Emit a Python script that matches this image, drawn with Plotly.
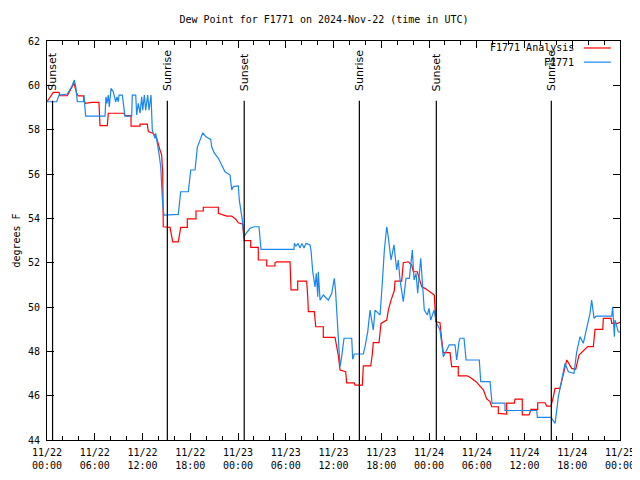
import pandas as pd
import plotly.graph_objects as go

# ---------------- data (hours since 2024-11-22 00:00 UTC, degrees F) ----------------
analysis_hours = [0, 0.79, 1.51, 1.63, 2.55, 3.39, 3.73, 3.93, 4.56, 4.78, 5.62, 6.53, 6.66, 7.58, 7.70,
                  9.68, 9.80, 10.56, 10.56, 11.69, 11.69, 12.60, 12.73, 13.36, 13.78, 13.99, 14.20, 14.41,
                  14.54, 14.61, 15.46, 15.80, 16.50, 16.80, 17.63, 17.63, 18.72, 18.72, 19.64, 19.64, 21.53,
                  21.53, 22.58, 23.21, 23.75, 24.04, 24.59, 24.67, 24.79, 25.60, 25.60, 26.55, 26.55, 27.61,
                  27.61, 28.65, 28.65, 28.86, 30.54, 30.66, 31.50, 31.50, 32.63, 32.76, 32.84, 33.59, 33.77,
                  34.72, 34.72, 36.19, 36.40, 36.60, 36.82, 37.53, 37.66, 38.61, 38.70, 39.62, 39.75, 40.68,
                  40.88, 41.00, 41.72, 41.97, 42.69, 42.89, 43.23, 43.64, 43.73, 44.57, 44.77, 45.40, 45.83,
                  46.03, 46.53, 46.87, 47.09, 47.50, 48.13, 48.67, 48.84, 49.38, 49.60, 49.80, 50.64, 50.85,
                  51.68, 51.68, 52.81, 53.15, 53.91, 54.20, 54.83, 55.25, 55.67, 55.88, 56.71, 56.71, 57.76,
                  57.76, 58.72, 58.81, 59.72, 59.72, 60.57, 60.82, 61.66, 61.66, 62.58, 62.79, 63.33, 63.62,
                  63.84, 64.46, 64.88, 65.31, 65.93, 66.44, 66.85, 67.94, 68.65, 68.86, 69.83, 69.91, 70.87,
                  70.96, 71.71, 72.0]
analysis_vals = [59.26, 59.68, 59.68, 59.53, 59.53, 60.09, 59.64, 59.52, 59.52, 59.19, 59.23, 59.23, 58.18,
                 58.18, 58.74, 58.74, 58.63, 58.63, 58.16, 58.16, 58.25, 58.25, 57.91, 57.83, 57.61, 57.31,
                 57.08, 56.86, 56.03, 53.62, 53.59, 52.94, 52.94, 53.59, 53.59, 53.98, 53.98, 54.33, 54.33,
                 54.50, 54.50, 54.23, 54.10, 54.10, 53.95, 53.80, 53.74, 53.40, 52.99, 52.99, 52.69, 52.69,
                 52.12, 52.12, 51.85, 51.85, 52.00, 52.04, 52.04, 50.77, 50.77, 51.17, 51.17, 50.46, 49.79,
                 49.79, 49.11, 49.11, 48.63, 48.63, 48.21, 47.83, 47.16, 47.08, 46.58, 46.58, 46.48, 46.48,
                 47.34, 47.34, 47.88, 48.39, 48.39, 49.26, 49.41, 49.86, 50.31, 50.73, 51.17, 51.17, 52.00,
                 52.04, 51.89, 51.59, 51.59, 51.22, 50.91, 50.84, 50.69, 50.54, 49.34, 49.29, 48.51, 47.94,
                 47.94, 47.31, 47.31, 46.89, 46.89, 46.83, 46.63, 46.51, 46.26, 45.85, 45.73, 45.50, 45.50,
                 45.20, 45.17, 45.66, 45.66, 45.84, 45.84, 45.13, 45.13, 45.38, 45.38, 45.68, 45.68, 45.53,
                 45.53, 45.95, 46.33, 46.33, 46.93, 47.61, 47.23, 47.19, 47.83, 48.21, 48.21, 48.99, 48.99,
                 49.49, 49.49, 49.26, 49.26, 49.32]

station_hours = [0, 1.22, 1.51, 2.55, 3.10, 3.43, 3.61, 3.81, 4.56, 4.65, 4.71, 4.86, 7.29, 7.41, 7.54,
                 7.70, 7.83, 8.04, 8.33, 8.63, 8.80, 8.96, 9.05, 9.46, 9.80, 10.64, 10.72, 11.15, 11.27,
                 11.47, 11.69, 11.90, 12.03, 12.23, 12.40, 12.65, 12.82, 13.07, 13.23, 13.36, 13.57, 13.66,
                 13.91, 14.07, 14.29, 14.41, 14.49, 14.61, 14.70, 16.50, 16.62, 16.80, 17.76, 17.88, 18.06,
                 18.60, 18.72, 18.89, 19.23, 19.57, 19.98, 20.57, 20.70, 20.99, 21.53, 21.83, 22.37, 23.00,
                 23.21, 23.41, 24.04, 24.16, 24.38, 24.54, 24.76, 25.01, 25.51, 26.05, 26.64, 26.89, 31.04,
                 31.08, 31.29, 31.54, 31.79, 32.04, 32.29, 32.55, 33.05, 33.17, 33.39, 33.68, 33.84, 34.02,
                 34.09, 34.31, 34.72, 35.35, 35.78, 36.10, 36.25, 36.40, 36.60, 36.82, 37.03, 37.32, 38.29,
                 38.41, 38.61, 39.75, 39.96, 40.30, 40.59, 40.80, 41.00, 41.22, 41.85, 42.13, 42.39, 42.69,
                 42.85, 43.23, 43.60, 43.94, 44.14, 44.36, 44.77, 45.11, 45.53, 45.91, 46.12, 46.37, 46.58,
                 46.96, 47.21, 47.41, 47.79, 48.00, 48.22, 48.63, 48.97, 49.38, 49.60, 49.80, 50.23, 50.55,
                 51.27, 51.48, 51.77, 51.90, 52.40, 52.66, 54.32, 54.50, 55.67, 55.92, 57.55, 57.55, 61.54,
                 61.62, 63.33, 63.58, 63.84, 64.05, 64.25, 64.68, 65.09, 65.51, 66.22, 66.56, 66.98, 67.39,
                 67.82, 68.23, 68.44, 68.54, 68.74, 68.99, 70.96, 71.08, 71.29, 71.37, 71.79, 72.0]
station_vals = [59.26, 59.26, 59.56, 59.61, 59.94, 60.24, 59.94, 59.26, 59.26, 59.56, 59.26, 58.61, 58.61,
                59.48, 59.19, 59.56, 59.03, 59.86, 59.71, 59.26, 59.48, 59.26, 59.56, 59.56, 58.61, 58.61,
                59.56, 59.56, 58.66, 59.19, 58.74, 59.48, 58.88, 59.56, 58.88, 59.56, 58.88, 59.56, 57.98,
                57.83, 57.61, 57.83, 57.38, 56.93, 56.33, 55.28, 54.90, 54.37, 54.15, 54.18, 54.68, 55.20,
                55.20, 55.73, 56.18, 56.18, 56.78, 57.20, 57.53, 57.86, 57.68, 57.56, 57.23, 56.96, 56.71,
                56.48, 56.10, 55.95, 55.28, 55.43, 55.46, 54.83, 54.38, 53.92, 53.17, 53.32, 53.55, 53.62,
                53.62, 52.60, 52.60, 52.87, 52.75, 52.87, 52.66, 52.87, 52.66, 52.87, 52.80, 52.57, 51.59,
                50.91, 51.52, 50.46, 51.59, 50.31, 50.54, 50.31, 50.62, 51.29, 50.77, 49.71, 48.66, 47.31,
                47.76, 48.59, 48.59, 47.64, 47.88, 47.88, 48.21, 48.88, 49.86, 49.41, 48.96, 49.86, 49.64,
                51.07, 52.57, 53.62, 53.25, 52.12, 52.80, 51.67, 52.12, 51.22, 50.24, 51.29, 51.29, 52.57,
                51.22, 51.52, 50.62, 52.20, 50.77, 49.86, 49.64, 49.94, 49.41, 49.86, 49.26, 48.96, 48.36,
                47.76, 48.06, 48.29, 48.29, 47.61, 48.43, 48.59, 48.59, 47.61, 47.61, 46.63, 46.63, 45.66,
                45.66, 45.33, 45.33, 45.02, 45.02, 44.90, 44.75, 45.35, 45.95, 46.71, 47.46, 47.08, 47.01,
                47.98, 48.66, 48.36, 49.11, 49.71, 50.31, 50.09, 49.49, 49.59, 49.59, 50.01, 48.66, 49.41,
                48.88, 48.87]

event_hours = [0.70, 15.12, 24.78, 39.25, 48.92, 63.37]
event_labels = ["Sunset", "Sunrise", "Sunset", "Sunrise", "Sunset", "Sunrise"]

y_ticks = [44, 46, 48, 50, 52, 54, 56, 58, 60, 62]
series_names = ["F1771 Analysis", "F1771"]
series_colors = ["#ff0000", "#1a86f0"]

# ---------------- figure ----------------
base = pd.Timestamp("2024-11-22 00:00")
def to_time(hours):
    return [base + pd.Timedelta(hours=h) for h in hours]

MONO = "DejaVu Sans Mono"
# page body has an 8px margin, so the figure is 8px smaller on each side
FIG_W, FIG_H = 632, 472

fig = go.Figure()
fig.add_trace(go.Scatter(x=to_time(analysis_hours), y=analysis_vals, mode="lines",
                         line=dict(color=series_colors[0], width=1.2), name=series_names[0],
                         showlegend=False))
fig.add_trace(go.Scatter(x=to_time(station_hours), y=station_vals, mode="lines",
                         line=dict(color=series_colors[1], width=1.2), name=series_names[1],
                         showlegend=False))

for h, lab in zip(event_hours, event_labels):
    t = base + pd.Timedelta(hours=h)
    fig.add_shape(type="line", xref="x", yref="y", x0=t, x1=t, y0=44, y1=59.3,
                  line=dict(color="black", width=1.2))
    fig.add_annotation(x=t, y=59.65, xref="x", yref="y", text=lab, textangle=-90,
                       showarrow=False, xanchor="center", yanchor="bottom",
                       font=dict(family="DejaVu Sans", size=11, color="black"))

# manual gnuplot-style legend (text right-aligned, sample on the right)
leg_y = [0.9825, 0.947]
for name, col, yy in zip(series_names, series_colors, leg_y):
    fig.add_annotation(x=0.924, y=yy, xref="paper", yref="paper", text=name, showarrow=False,
                       xanchor="right", yanchor="middle",
                       font=dict(family=MONO, size=10, color="black"))
    fig.add_shape(type="line", xref="paper", yref="paper", x0=0.937, x1=0.984, y0=yy, y1=yy,
                  line=dict(color=col, width=1.2))

fig.add_annotation(x=-0.067, y=0.5, xref="paper", yref="paper", text="degrees F", textangle=-90,
                   showarrow=False, xanchor="left", yanchor="middle",
                   font=dict(family=MONO, size=10, color="black"))

fig.update_layout(
    width=FIG_W, height=FIG_H,
    margin=dict(l=39, r=20, t=33, b=40, autoexpand=False),
    paper_bgcolor="white", plot_bgcolor="white",
    title=dict(text="Dew Point for F1771 on 2024-Nov-22 (time in UTC)", x=0.5, xanchor="center",
               y=1 - 11 / FIG_H, yanchor="middle", yref="container",
               font=dict(family=MONO, size=10, color="black")),
    font=dict(family=MONO, size=10, color="black"),
)
fig.update_xaxes(
    type="date", range=[base, base + pd.Timedelta(hours=72)], automargin=False,
    tick0=base, dtick=6 * 3600 * 1000, tickformat="%m/%d<br>%H:%M",
    ticks="inside", ticklen=7, tickcolor="black", tickwidth=1, ticklabelstandoff=3,
    minor=dict(dtick=2 * 3600 * 1000, ticks="inside", ticklen=4, tickcolor="black"),
    showline=True, linecolor="black", linewidth=1, mirror="ticks",
    showgrid=False, zeroline=False,
    tickfont=dict(family=MONO, size=10, color="black"),
)
fig.update_yaxes(
    range=[44, 62], tickvals=y_ticks, ticktext=[str(v) for v in y_ticks], automargin=False,
    ticks="inside", ticklen=7, tickcolor="black", tickwidth=1, ticklabelstandoff=4,
    showline=True, linecolor="black", linewidth=1, mirror="ticks",
    showgrid=False, zeroline=False,
    tickfont=dict(family=MONO, size=10, color="black"),
)

fig.write_html("out.html")
